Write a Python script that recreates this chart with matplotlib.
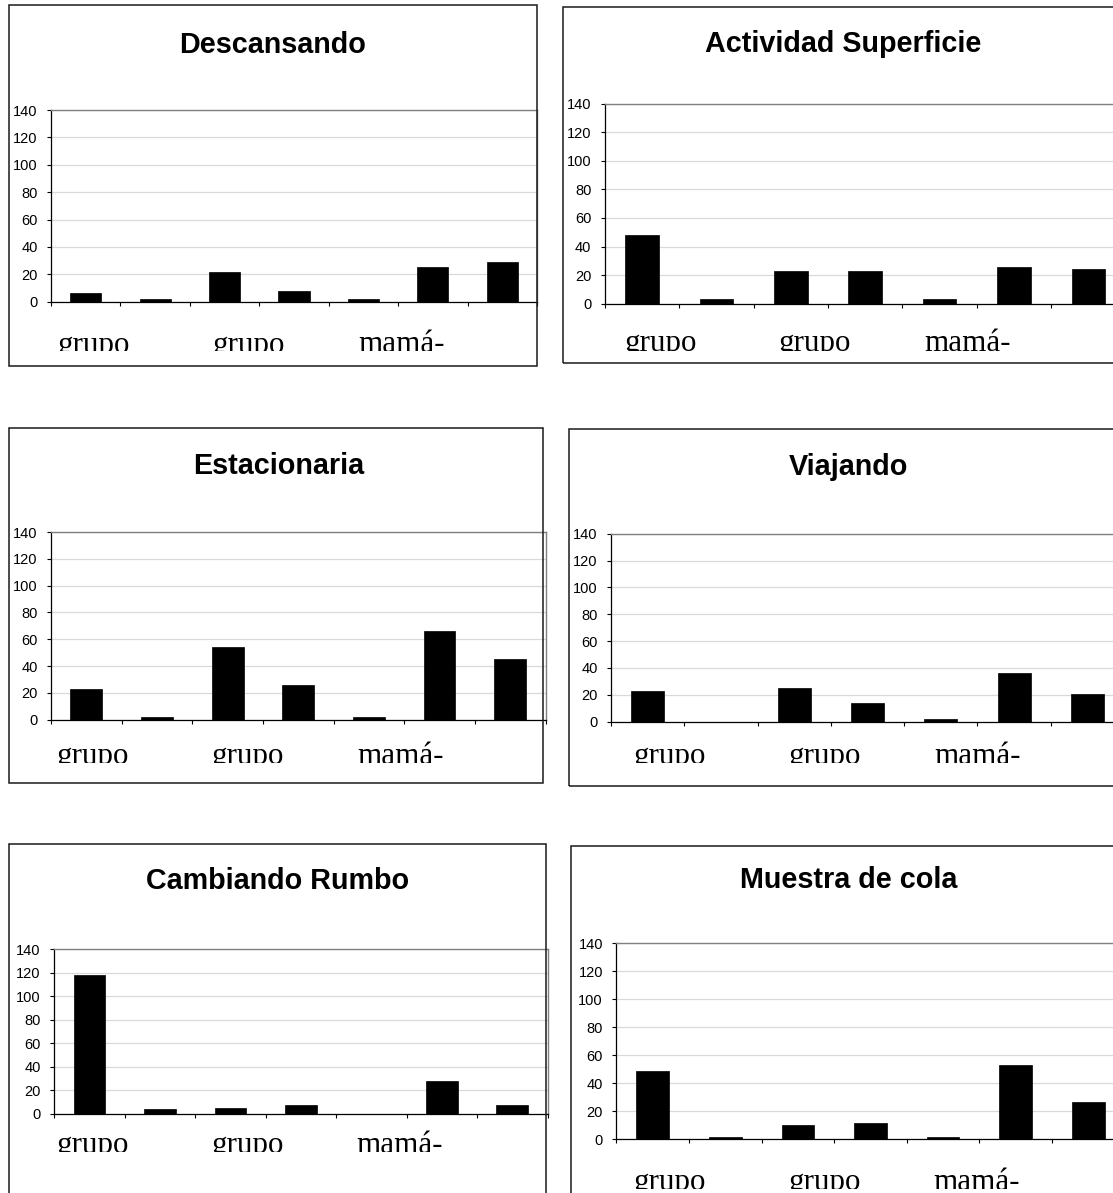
import matplotlib
matplotlib.use("Agg")
import matplotlib.pyplot as plt
from matplotlib.patches import Rectangle
from matplotlib.transforms import Bbox, TransformedBbox, blended_transform_factory

# ---- data -------------------------------------------------------------
titles = ["Descansando", "Actividad Superficie", "Estacionaria",
          "Viajando", "Cambiando Rumbo", "Muestra de cola"]

descansando = [6, 2, 22, 8, 2, 25, 29]
actividad_superficie = [48, 3, 23, 23, 3, 26, 24]
estacionaria = [23, 2, 54, 26, 2, 66, 45]
viajando = [23, 0, 25, 14, 2, 36, 21]
cambiando_rumbo = [118, 4, 5, 7, 0, 28, 7]
muestra_de_cola = [49, 2, 10, 12, 2, 53, 27]

category_labels = ["grupo", "grupo", "mamá-"]
y_ticks = [0, 20, 40, 60, 80, 100, 120, 140]

series = [descansando, actividad_superficie, estacionaria,
          viajando, cambiando_rumbo, muestra_de_cola]

# ---- layout (pixel units of the 1113 x 1193 canvas) -------------------
W, H = 1113, 1193
DPI = 100

# frame: left, top, right, bottom
frames = [(8.5, 5, 537, 366), (563, 7.3, 1123, 363.3),
          (8.5, 428.3, 543, 782.7), (568.8, 429.3, 1127, 786),
          (8.5, 844.3, 545.5, 1205), (571.3, 845.7, 1125.5, 1205)]
# plot area: left, top, right, bottom
plots = [(51, 110, 537, 301.7), (604.8, 103.7, 1125.6, 303.7),
         (51, 532, 545.5, 719.7), (611, 533.7, 1124, 721.7),
         (54.3, 949.3, 547.5, 1113.7), (616.4, 943.3, 1124.6, 1139.3)]
# title centre x, title baseline y
title_pos = [(273, 53.3), (843, 51.7), (278.5, 474),
             (848, 475), (278, 889.3), (848.4, 888.3)]
# category-label clip line (labels run past the bottom of their row)
label_clip = [351.5, 350.5, 763, 763, 1152, 1189]
# left edge of each category label, in category units
label_x = [(0.09, 2.33, 4.42), (0.26, 2.34, 4.30), (0.085, 2.28, 4.33),
           (0.31, 2.42, 4.41), (0.04, 2.24, 4.29), (0.24, 2.37, 4.37)]


def fx(x):
    return x / W


def fy(y):
    return 1 - y / H


fig = plt.figure(figsize=(W / DPI, H / DPI), dpi=DPI)
fig.patch.set_facecolor("white")

for k in range(6):
    bl, bt, br, bb = frames[k]
    fig.patches.append(Rectangle((fx(bl), fy(bb)), (br - bl) / W, (bb - bt) / H,
                                 transform=fig.transFigure, fill=False,
                                 edgecolor="#1a1a1a", linewidth=1.1, zorder=0))

    pl, pt, pr, pb = plots[k]
    ax = fig.add_axes([fx(pl), fy(pb), (pr - pl) / W, (pb - pt) / H])
    ax.set_facecolor("none")
    vals = series[k]
    xs = [i + 0.5 for i in range(len(vals))]
    ax.bar(xs, vals, width=0.45, color="black", edgecolor="black",
           linewidth=0.5, zorder=3)
    ax.set_xlim(0, len(vals))
    ax.set_ylim(0, 140)
    ax.set_yticks(y_ticks)
    ax.set_yticklabels([str(v) for v in y_ticks], fontsize=10.5,
                       family="Liberation Sans")
    ax.set_xticks(range(len(vals) + 1))
    ax.set_xticklabels([])
    ax.tick_params(axis="y", direction="out", length=3.2, width=0.8,
                   pad=6.5, colors="black")
    ax.tick_params(axis="x", direction="out", length=3.2, width=0.8,
                   colors="black")
    ax.yaxis.grid(True, color="#d9d9d9", linewidth=0.9, zorder=0)
    ax.set_axisbelow(True)
    for side in ("left", "bottom"):
        ax.spines[side].set_color("black")
        ax.spines[side].set_linewidth(0.9)
    for side in ("top", "right"):
        ax.spines[side].set_color("#808080")
        ax.spines[side].set_linewidth(1.0)

    cx, ty = title_pos[k]
    fig.text(fx(cx), fy(ty), titles[k], ha="center", va="baseline",
             fontsize=20.7, fontweight="bold", family="Liberation Sans")

    clip_y = label_clip[k]
    trans = blended_transform_factory(ax.transData, fig.transFigure)
    clip = TransformedBbox(Bbox.from_extents(0, fy(clip_y), 1, 1),
                           fig.transFigure)
    for lx, lab in zip(label_x[k], category_labels):
        t = fig.text(lx, fy(clip_y + 1.0), lab, transform=trans,
                     ha="left", va="baseline", fontsize=22.3,
                     family="Liberation Serif")
        t.set_clip_box(clip)
        t.set_clip_on(True)

fig.savefig("out.png", dpi=DPI, facecolor="white")
